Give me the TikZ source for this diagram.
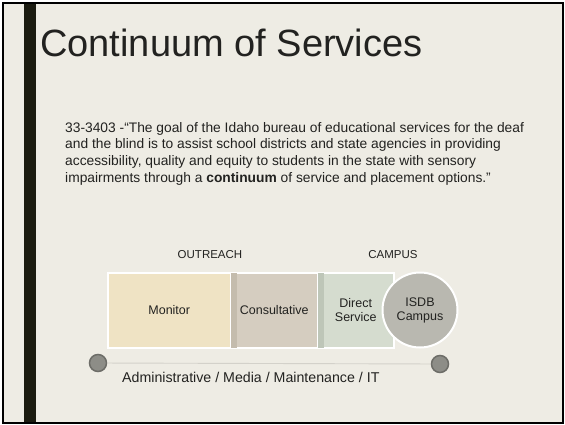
\documentclass[tikz,border=0pt]{standalone}
\usepackage{fontspec}
\setmainfont{Liberation Sans}
\definecolor{slidebg}{HTML}{EEECE4}
\definecolor{barcol}{HTML}{1B1B10}
\definecolor{inkcol}{HTML}{222220}
\definecolor{monitorcol}{HTML}{EFE3C4}
\definecolor{consultcol}{HTML}{D5CDC0}
\definecolor{consultdark}{HTML}{C4BCAD}
\definecolor{directcol}{HTML}{D5DCCF}
\definecolor{directdark}{HTML}{BEC6B8}
\definecolor{campuscol}{HTML}{B9B8B0}
\definecolor{dotcol}{HTML}{8D8D87}
\definecolor{dotedge}{HTML}{6D6D68}
\definecolor{railcol}{HTML}{D3D1CA}
\begin{document}
\begin{tikzpicture}[x=1pt,y=-1pt,
  every node/.style={text=inkcol,inner sep=0pt},
  stagebox/.style={draw=white,line width=1.5pt,minimum height=75pt,anchor=north west,
    align=center,font=\fontsize{12.5}{14}\selectfont},
  enddot/.style={circle,fill=dotcol,draw=dotedge,line width=1.5pt,minimum size=17pt}]
% slide frame, dark bar on the left, title and quoted statute
\useasboundingbox (0,0) rectangle (565,424);
\fill[white] (0,0) rectangle (565,424);
\fill[slidebg] (3,3) rectangle (563,423);
\fill[barcol] (24,3) rectangle (36,423);
\draw[black,line width=1.2pt] (3,3) rectangle (563,423);
\node[anchor=base west,font=\fontsize{38}{42}\selectfont] (title) at (40,56) {Continuum of Services};
\node[anchor=north west,align=left,font=\fontsize{13.8}{16.7}\selectfont] (statute) at (65,122)
  {33-3403 -“The goal of the Idaho bureau of educational services for the deaf\\
   and the blind is to assist school districts and state agencies in providing\\
   accessibility, quality and equity to students in the state with sensory\\
   impairments through a \textbf{continuum} of service and placement options.”};
% row of service levels
\foreach \nm/\xl/\bw/\col/\txt in {monitor/107/123/monitorcol/Monitor,
    consult/230/87/consultcol/Consultative,direct/317/76/directcol/{Direct\\Service}}
  \node[stagebox,fill=\col,minimum width=\bw pt] (\nm) at (\xl,272) {\txt};
\fill[consultdark] ([shift={(1,1)}]consult.north west) rectangle ([shift={(7,-1)}]consult.south west);
\fill[directdark] ([shift={(1,1)}]direct.north west) rectangle ([shift={(7,-1)}]direct.south west);
\node[circle,draw=white,line width=2pt,fill=campuscol,minimum size=75pt,align=center,
  font=\fontsize{12.5}{14}\selectfont] (campus) at (420,310) {ISDB\\Campus};
\node[font=\fontsize{11.5}{13}\selectfont] (outreach) at (210,255) {OUTREACH};
\node[font=\fontsize{11.5}{13}\selectfont] (campushead) at (393,255) {CAMPUS};
% support line underneath
\node[enddot] (leftdot) at (98,363) {};
\node[enddot] (rightdot) at (440,364) {};
\draw[railcol,line width=0.9pt] (leftdot) -- (rightdot);
\node[anchor=west,font=\fontsize{14.2}{16}\selectfont] (support) at (122,377) {Administrative / Media / Maintenance / IT};
\end{tikzpicture}
\end{document}
